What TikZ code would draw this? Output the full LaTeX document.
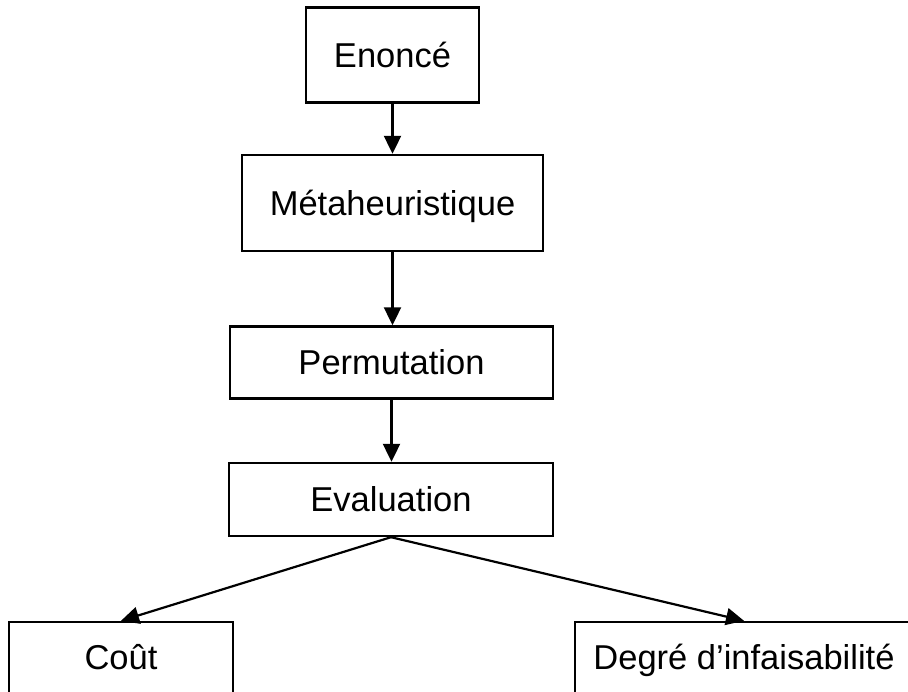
\documentclass[tikz,border=0pt]{standalone}
\usepackage{fontspec}
\setmainfont{Liberation Sans}
\usetikzlibrary{arrows.meta}
\begin{document}
\begin{tikzpicture}[x=1pt,y=-1pt,
  box/.style={draw=black,line width=2.4pt,inner sep=0pt,align=center,
    text height=24.7pt,text depth=0pt,
    font=\fontsize{34.5}{40}\selectfont},
  lowbox/.style={box,text depth=10pt,minimum height=80pt},
  link/.style={draw=black,line width=2.2pt,-{Triangle[length=18pt,width=17pt]}}]
\useasboundingbox (0,0) rectangle (908,692);
\clip (0,0) rectangle (908,692);
\node[box,minimum width=173pt,minimum height=95pt] (enonce) at (392.5,55) {Enoncé};
\node[box,minimum width=301pt,minimum height=96pt] (meta) at (392.5,203) {Métaheuristique};
\node[box,minimum width=323pt,minimum height=72pt] (perm) at (391.5,362.5) {Permutation};
\node[box,minimum width=324pt,minimum height=73pt] (eval) at (391,499.5) {Evaluation};
\node[lowbox,minimum width=224pt] (cout) at (121,662) {Coût};
\node[lowbox,minimum width=338pt] (degre) at (744,662) {Degré d’infaisabilité};
\draw[link] (enonce.south) -- (enonce.south |- meta.north);
\draw[link] (meta.south) -- (meta.south |- perm.north);
\draw[link] (perm.south) -- (perm.south |- eval.north);
\draw[link] (eval.south) -- (cout.north);
\draw[link] (eval.south) -- (degre.north);
\end{tikzpicture}
\end{document}
